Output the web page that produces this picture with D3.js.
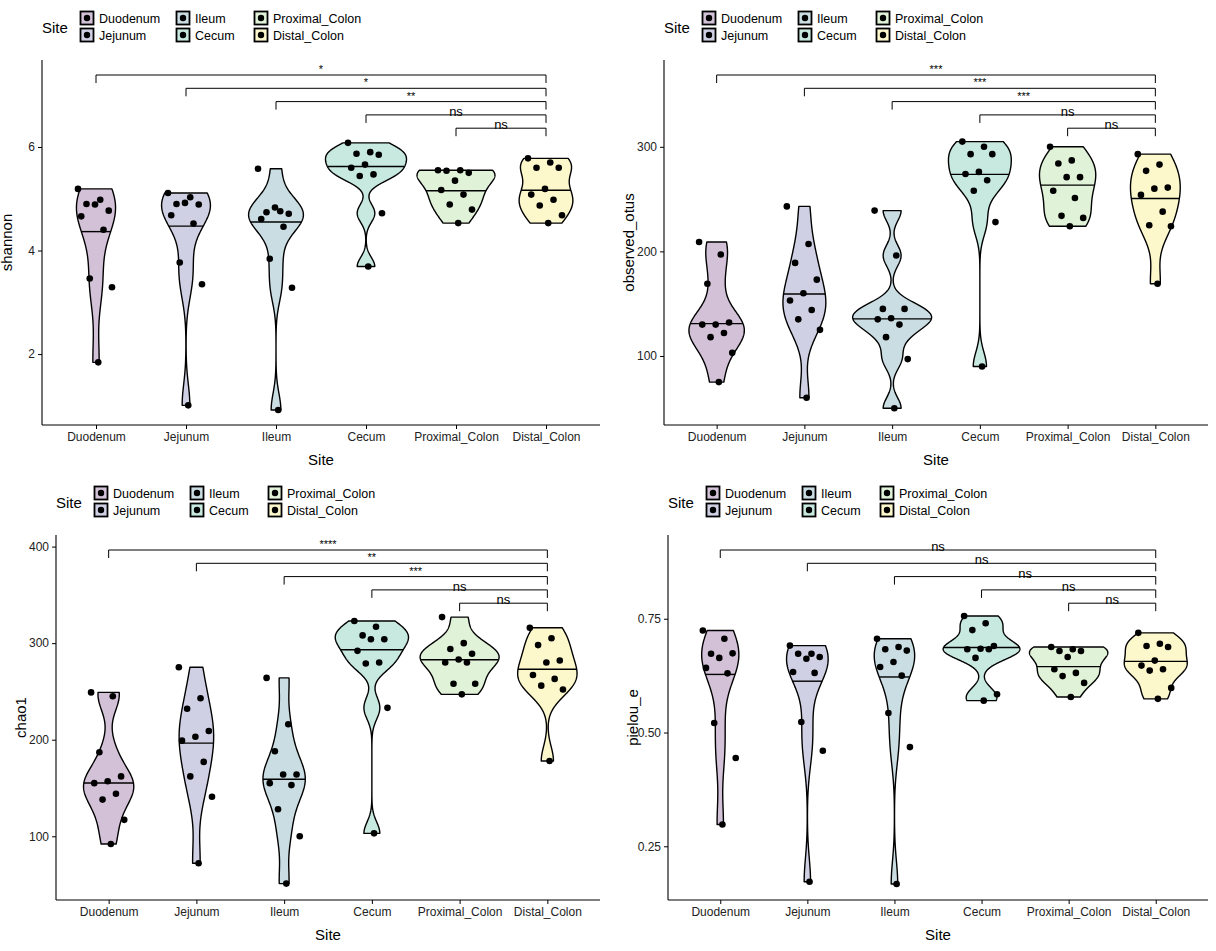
<!DOCTYPE html>
<html><head><meta charset="utf-8">
<script src="https://cdn.jsdelivr.net/npm/d3@7"></script>
<style>body{margin:0;background:#fff}svg{display:block;font-family:"Liberation Sans",Arial,sans-serif}</style>
</head><body><svg id="c" width="1216" height="951"></svg>
<script>
const sites = ["Duodenum", "Jejunum", "Ileum", "Cecum", "Proximal_Colon", "Distal_Colon"];
const siteColors = ["#d3c1d8", "#d0d0e4", "#cadde3", "#c8e9e0", "#e0f2d8", "#fdf8cc"];

const shannon = [
  [5.19, 4.98, 4.90, 4.77, 4.89, 4.66, 4.40, 3.46, 3.29, 1.84],
  [5.11, 5.03, 4.90, 4.89, 4.92, 4.68, 4.52, 3.77, 3.35, 1.01],
  [5.58, 4.76, 4.74, 4.71, 4.83, 4.61, 4.46, 3.84, 3.28, 0.92],
  [6.08, 5.90, 5.87, 5.85, 5.66, 5.60, 5.47, 5.44, 4.72, 3.69],
  [5.55, 5.55, 5.54, 5.50, 5.35, 5.17, 5.08, 4.89, 4.79, 4.53],
  [5.78, 5.70, 5.60, 5.60, 5.19, 5.08, 4.98, 4.87, 4.68, 4.53]
];
const observedOtus = [
  [209, 197, 169, 132, 130, 130, 122, 118, 103, 75],
  [243, 207, 189, 173, 160, 153, 144, 135, 125, 60],
  [239, 196, 145, 145, 136, 135, 130, 118, 97, 50],
  [305, 300, 293, 293, 276, 274, 268, 258, 228, 90],
  [300, 287, 284, 271, 271, 258, 251, 234, 232, 224],
  [293, 283, 277, 261, 260, 254, 238, 225, 224, 169]
];
const chao1 = [
  [249, 245, 187, 162, 157, 155, 144, 138, 117, 92],
  [275, 243, 232, 209, 203, 199, 177, 162, 141, 72],
  [264, 216, 188, 164, 164, 155, 153, 128, 100, 51],
  [323, 317, 308, 304, 304, 292, 280, 279, 233, 103],
  [327, 300, 294, 289, 283, 280, 280, 258, 258, 247],
  [316, 305, 298, 282, 280, 267, 263, 256, 252, 178]
];
const pielouE = [
  [0.724, 0.706, 0.673, 0.674, 0.664, 0.642, 0.630, 0.521, 0.444, 0.298],
  [0.691, 0.673, 0.673, 0.666, 0.662, 0.633, 0.631, 0.523, 0.460, 0.172],
  [0.706, 0.688, 0.683, 0.680, 0.655, 0.644, 0.625, 0.543, 0.468, 0.167],
  [0.756, 0.740, 0.725, 0.690, 0.684, 0.683, 0.683, 0.664, 0.584, 0.570],
  [0.688, 0.683, 0.679, 0.679, 0.666, 0.639, 0.631, 0.624, 0.609, 0.578],
  [0.719, 0.695, 0.690, 0.688, 0.658, 0.647, 0.639, 0.636, 0.598, 0.574]
];
// comparisons each group vs Distal_Colon, top to bottom
const compareGroups = ["Duodenum", "Jejunum", "Ileum", "Cecum", "Proximal_Colon"];
const shannonSig = ["*", "*", "**", "ns", "ns"];
const otusSig = ["***", "***", "***", "ns", "ns"];
const chao1Sig = ["****", "**", "***", "ns", "ns"];
const pielouSig = ["ns", "ns", "ns", "ns", "ns"];

const panels = [
  {x: 0, y: 0, name: "shannon", data: shannon, sig: shannonSig, domain: [0.63, 7.68], ticks: [2, 4, 6], fmt: d3.format("d"), left: 42},
  {x: 608, y: 0, name: "observed_otus", data: observedOtus, sig: otusSig, domain: [34, 383], ticks: [100, 200, 300], fmt: d3.format("d"), left: 56},
  {x: 0, y: 475, name: "chao1", data: chao1, sig: chao1Sig, domain: [34, 412], ticks: [100, 200, 300, 400], fmt: d3.format("d"), left: 56},
  {x: 608, y: 475, name: "pielou_e", data: pielouE, sig: pielouSig, domain: [0.132, 0.934], ticks: [0.25, 0.5, 0.75], fmt: d3.format(".2f"), left: 60}
];

const svg = d3.select("#c");
const plotTop = 60, plotBottom = 425, plotRight = 600;

function kde(values) {
  const n = values.length;
  const sorted = values.slice().sort(d3.ascending);
  const sd = d3.deviation(values);
  const iqr = d3.quantile(sorted, 0.75) - d3.quantile(sorted, 0.25);
  const bw = 0.9 * Math.min(sd, iqr / 1.34) * Math.pow(n, -0.2);
  const lo = sorted[0], hi = sorted[n - 1];
  const pts = d3.range(200).map(i => lo + (hi - lo) * i / 199);
  return pts.map(y => [y, d3.mean(values, v => Math.exp(-0.5 * ((y - v) / bw) ** 2)) / (bw * Math.sqrt(2 * Math.PI))]);
}

panels.forEach(p => {
  const g = svg.append("g").attr("transform", `translate(${p.x},${p.y})`);
  const x = d3.scalePoint().domain(sites).range([p.left, plotRight]).padding(0.6);
  const y = d3.scaleLinear().domain(p.domain).range([plotBottom, plotTop]);
  const step = x.step();

  const dens = p.data.map(kde);
  const maxD = d3.max(dens, d => d3.max(d, e => e[1] * (d[d.length - 1][0] - d[0][0] > 0 ? 1 : 0)));
  const w = d3.scaleLinear().domain([0, maxD]).range([0, step * 0.45]);

  dens.forEach((d, i) => {
    const cx = x(sites[i]);
    const area = d3.area().y(e => y(e[0])).x0(e => cx - w(e[1])).x1(e => cx + w(e[1]));
    g.append("path").attr("d", area(d) + "Z").attr("fill", siteColors[i])
      .attr("stroke", "#000").attr("stroke-width", 1.4).attr("stroke-linejoin", "round");
    // median from the density's cumulative, as ggplot draw_quantiles does
    const cum = [0];
    for (let k = 1; k < d.length; k++) cum.push(cum[k - 1] + (d[k][1] + d[k - 1][1]) / 2 * (d[k][0] - d[k - 1][0]));
    const tot = cum[cum.length - 1];
    const med = d[cum.findIndex(c => c >= tot / 2)];
    g.append("line").attr("x1", cx - w(med[1])).attr("x2", cx + w(med[1]))
      .attr("y1", y(med[0])).attr("y2", y(med[0])).attr("stroke", "#000").attr("stroke-width", 1.4);
    p.data[i].forEach((v, j) => {
      const off = (((j * 0.6180339) % 1) - 0.5) * 0.8 * step * 0.5;
      g.append("circle").attr("cx", cx + off).attr("cy", y(v)).attr("r", 3.3).attr("fill", "#000");
    });
  });

  // significance brackets
  compareGroups.forEach((s, i) => {
    const by = 75 + i * 13.3;
    const x1 = x(s), x2 = x("Distal_Colon");
    g.append("path").attr("d", `M${x1},${by + 8}V${by}H${x2}V${by + 8}`).attr("fill", "none").attr("stroke", "#000").attr("stroke-width", 1);
    const isNs = p.sig[i] === "ns";
    g.append("text").attr("x", (x1 + x2) / 2).attr("y", isNs ? by + 1 : by - 2).attr("text-anchor", "middle")
      .attr("font-size", isNs ? 13 : 11).text(p.sig[i]);
  });

  // axes
  const ya = g.append("g").attr("transform", `translate(${p.left},0)`)
    .call(d3.axisLeft(y).tickValues(p.ticks).tickFormat(p.fmt).tickSize(4).tickPadding(3));
  const xa = g.append("g").attr("transform", `translate(0,${plotBottom})`)
    .call(d3.axisBottom(x).tickSize(4).tickPadding(3));
  ya.select(".domain").attr("d", `M0,${plotTop}V${plotBottom}`).attr("stroke-width", 1.1);
  xa.select(".domain").attr("d", `M${p.left},0H${plotRight}`).attr("stroke-width", 1.1);
  [ya, xa].forEach(a => a.selectAll("text").attr("font-size", 12).attr("fill", "#222"));
  g.append("text").attr("x", (p.left + plotRight) / 2).attr("y", 465).attr("text-anchor", "middle").attr("font-size", 15).text("Site");
  g.append("text").attr("transform", `translate(${p.left - 30},${(plotTop + plotBottom) / 2}) rotate(-90)`)
    .attr("text-anchor", "middle").attr("font-size", 15).text(p.name);

  // legend
  const lg = g.append("g").attr("transform", `translate(${p.left},0)`);
  lg.append("text").attr("x", 0).attr("y", 33).attr("font-size", 15).text("Site");
  const colX = [45, 141, 219];
  sites.forEach((s, i) => {
    const cx = colX[Math.floor(i / 2)], cy = 18 + (i % 2) * 17;
    lg.append("rect").attr("x", cx - 6.5).attr("y", cy - 6.5).attr("width", 13).attr("height", 13)
      .attr("fill", siteColors[i]).attr("stroke", "#000").attr("stroke-width", 1.8);
    lg.append("circle").attr("cx", cx).attr("cy", cy).attr("r", 3.2).attr("fill", "#000");
    lg.append("text").attr("x", cx + 12).attr("y", cy + 4.5).attr("font-size", 12.5).text(s);
  });
});
</script></body></html>
